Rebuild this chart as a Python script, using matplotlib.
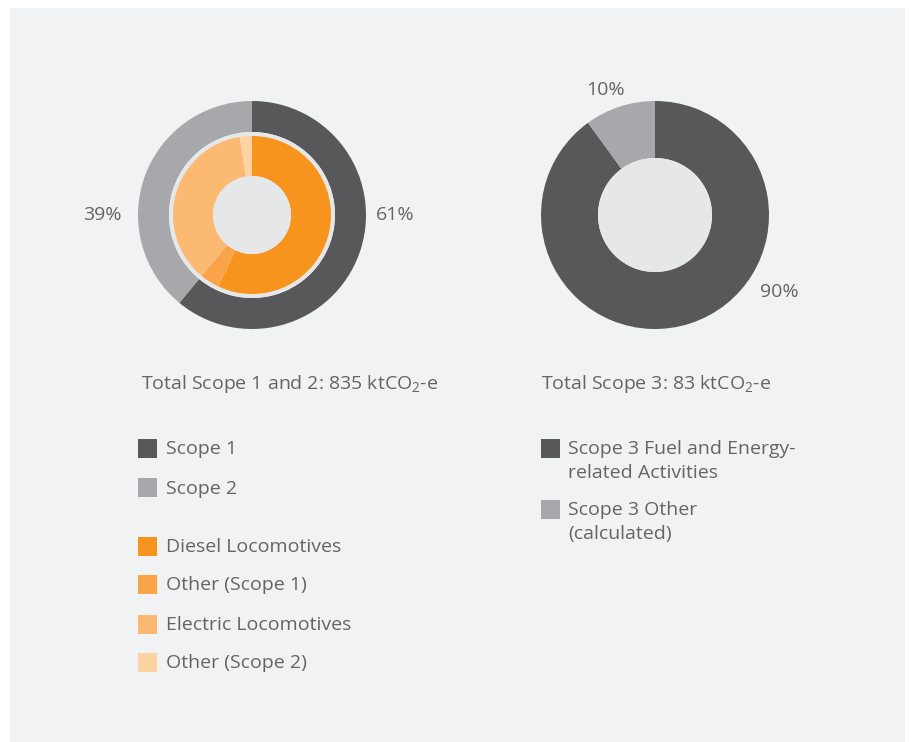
import matplotlib.pyplot as plt
from matplotlib.patches import Circle, Rectangle

# emissions breakdown (percent of each total)
scope12_labels = ['Scope 1', 'Scope 2']
scope12_pct = [61, 39]
source_labels = ['Diesel Locomotives', 'Other (Scope 1)',
                 'Electric Locomotives', 'Other (Scope 2)']
source_pct = [57, 4, 36.5, 2.5]
scope3_labels = ['Scope 3 Fuel and Energy-\nrelated Activities',
                 'Scope 3 Other\n(calculated)']
scope3_pct = [90, 10]
total_scope12 = 835
total_scope3 = 83

DARK = '#58585a'
GREY = '#a7a8ab'
ORANGES = ['#f7941d', '#f9a448', '#fbb972', '#fdd3a1']
HOLE = '#e6e7e8'
PANEL = '#f1f2f4'
TEXT = '#636466'

plt.rcParams['font.family'] = ['Open Sans', 'DejaVu Sans']
plt.rcParams['mathtext.fontset'] = 'custom'
plt.rcParams['mathtext.rm'] = 'Open Sans'
plt.rcParams['mathtext.default'] = 'rm'

W, H = 913, 742
fig = plt.figure(figsize=(W / 100, H / 100), dpi=100)
fig.patch.set_facecolor('white')
ax = fig.add_axes([0, 0, 1, 1])


def py(y):
    # pixel rows are measured from the top
    return H - y


ax.add_patch(Rectangle((10, py(742)), 895, 734, facecolor=PANEL,
                       edgecolor='none', zorder=0))

# left: scope 1 / scope 2 with the source split inside
c1 = (252, py(215))
ax.pie(scope12_pct, colors=[DARK, GREY], radius=114, center=c1,
       startangle=90, counterclock=False, frame=True,
       wedgeprops=dict(width=31, linewidth=0))
ax.add_patch(Circle(c1, 83, facecolor=HOLE, edgecolor='none', zorder=2))
wedges, _ = ax.pie(source_pct, colors=ORANGES, radius=79, center=c1,
                   startangle=90, counterclock=False, frame=True,
                   wedgeprops=dict(width=40, linewidth=0))
for w in wedges:
    w.set_zorder(3)
ax.add_patch(Circle(c1, 39, facecolor=HOLE, edgecolor='none', zorder=3))

# right: scope 3
c2 = (655, py(215))
ax.pie(scope3_pct, colors=[DARK, GREY], radius=114, center=c2,
       startangle=90, counterclock=False, frame=True,
       wedgeprops=dict(width=57, linewidth=0))
ax.add_patch(Circle(c2, 57, facecolor=HOLE, edgecolor='none', zorder=2))

fs = 14
lbl = dict(color=TEXT, fontsize=fs, ha='center', va='center')
ax.text(395, py(215), f'{scope12_pct[0]}%', **lbl)
ax.text(102, py(215), f'{scope12_pct[1]}%', **lbl)
ax.text(605, py(90), f'{scope3_pct[1]}%', **lbl)
ax.text(779, py(292), f'{scope3_pct[0]}%', **lbl)

ax.text(141, py(384), f'Total Scope 1 and 2: {total_scope12} ktCO$_2$-e',
        color=TEXT, fontsize=fs, va='center')
ax.text(541, py(384), f'Total Scope 3: {total_scope3} ktCO$_2$-e',
        color=TEXT, fontsize=fs, va='center')


def legend_row(x, y, color, label):
    ax.add_patch(Rectangle((x, py(y) - 9.5), 19, 19, facecolor=color,
                           edgecolor='none'))
    ax.text(x + 28, py(y) - 1.5, label, color=TEXT, fontsize=fs,
            va='center')


for lab, col, y in zip(scope12_labels, [DARK, GREY], [448, 487]):
    legend_row(138, y, col, lab)
for lab, col, y in zip(source_labels, ORANGES, [546, 584, 624, 662]):
    legend_row(138, y, col, lab)
for lab, col, y in zip(scope3_labels, [DARK, GREY], [448, 509]):
    legend_row(541, y, col, '')
    ax.text(568, py(y) + 8, lab, color=TEXT, fontsize=fs, va='top',
            linespacing=1.45)

ax.set_xlim(0, W)
ax.set_ylim(0, H)
ax.set_aspect('auto')
ax.axis('off')

fig.savefig('out.png', dpi=100, facecolor='white')
